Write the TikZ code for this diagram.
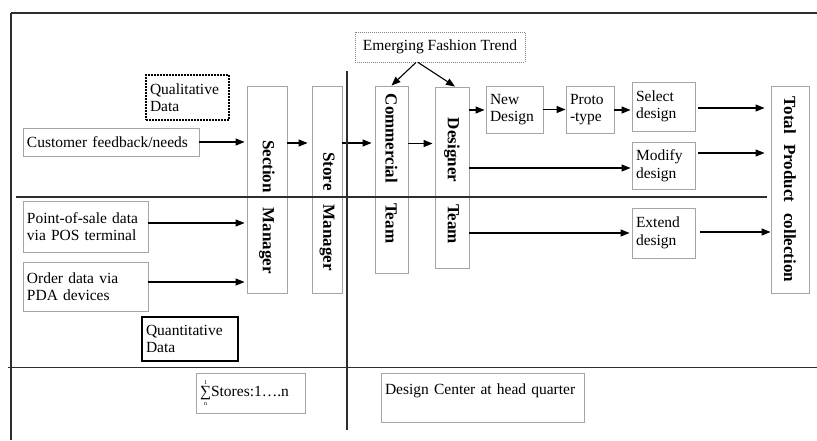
\documentclass[tikz,border=0pt]{standalone}
\usepackage{fontspec}
\setmainfont{Liberation Serif}
\usetikzlibrary{arrows.meta}
\definecolor{boxgray}{RGB}{165,165,165}
\definecolor{inkgray}{RGB}{45,45,45}
\newcommand\regtxt{\fontsize{15.5}{17.5}\selectfont}
\newcommand\boldtxt{\fontsize{17}{19}\selectfont\bfseries}
\newcommand\vlabel[1]{\rotatebox{-90}{#1}}
\begin{document}
\begin{tikzpicture}[x=1pt,y=-1pt,
  box/.style={draw=boxgray, line width=0.9pt, inner xsep=4pt, inner ysep=0pt, align=left, font=\regtxt},
  vbox/.style={draw=boxgray, line width=0.9pt, inner sep=0pt, font=\boldtxt},
  dotbox/.style={draw=boxgray!80!black, line width=0.8pt, dash pattern=on 1pt off 1pt},
  qualbox/.style={draw=black, line width=1.6pt, dash pattern=on 1.6pt off 1.4pt},
  quantbox/.style={draw=black, line width=2pt},
  link/.style={draw=black, line width=1.1pt, -{Triangle[length=9pt,width=7pt]}},
  rule/.style={draw=inkgray, line width=1.1pt}]
\useasboundingbox (0,0) rectangle (817,440);

% store side inputs
\node[box, dotbox, align=center, minimum width=170pt, minimum height=30pt] (emerg) at (440,47) {Emerging Fashion Trend};
\node[box, qualbox, text width=75pt, minimum height=45pt] (qual) at (187.5,97.5) {Qualitative\\Data};
\node[box, text width=168pt, minimum height=28pt] (cust) at (111,142) {Customer feedback/needs};
\node[box, text width=117pt, minimum height=51pt] (pos) at (85.5,226.5) {Point-of-sale data\\via POS terminal};
\node[box, text width=117pt, minimum height=49pt] (order) at (85.5,286.5) {Order data via\\PDA devices};
\node[box, quantbox, text width=88pt, minimum height=44pt] (quant) at (190,339) {Quantitative\\Data};

% vertical role boxes
\node[vbox, minimum width=40pt, minimum height=207pt] (sect) at (267,189.5) {\vlabel{\hspace{35pt}Section\hspace{15pt}Manager}};
\node[vbox, minimum width=30pt, minimum height=207pt] (store) at (327,189.5) {\vlabel{\hspace{44pt}Store\hspace{14pt}Manager}};
\node[vbox, minimum width=33pt, minimum height=187pt] (comm) at (391.5,179.5) {\vlabel{Commercial\hspace{20pt}Team\hspace{22pt}}};
\node[vbox, minimum width=34pt, minimum height=181pt] (desig) at (452,177.5) {\vlabel{\hspace{7pt}Designer\hspace{22pt}Team}};
\node[vbox, minimum width=38pt, minimum height=207pt] (total) at (790,189.5) {\vlabel{Total\hspace{10pt}Product\hspace{11pt}collection}};

% design steps
\node[box, text width=49pt, minimum height=47pt] (newd) at (514.5,109.5) {New\\Design};
\node[box, text width=40pt, minimum height=47pt] (proto) at (590,109.5) {Proto\\-type};
\node[box, text width=55pt, minimum height=49pt] (select) at (663.5,106.5) {Select\\design};
\node[box, text width=55pt, minimum height=47pt] (modify) at (663.5,165.5) {Modify\\design};
\node[box, text width=55pt, minimum height=50pt] (extend) at (663.5,233) {Extend\\design};

% bottom captions
\node[box, text width=101pt, minimum height=40pt] (sum) at (250.5,393) {$\mathop{\mbox{∑}}\limits^{\mbox{\fontsize{6}{6}\selectfont 1}}_{\mbox{\fontsize{6}{6}\selectfont n}}$Stores:1….n};
\node[box, text width=195pt, minimum height=49pt] (dc) at (482.5,397.5) {Design Center at head quarter\\\mbox{}};

% connectors
\draw[link, shorten >=2pt] (cust.east) -- (cust.east -| sect.west);
\draw[link, shorten >=2pt] (pos.east |- 0,223) -- (sect.west |- 0,223);
\draw[link, shorten >=2pt] (order.east |- 0,282) -- (sect.west |- 0,282);
\draw[link, shorten >=4pt] (sect.east |- 0,143) -- (store.west |- 0,143);
\draw[link, shorten >=3pt] (store.east |- 0,143) -- (comm.west |- 0,143);
\draw[link, shorten >=2pt] (comm.east |- 0,143.5) -- (desig.west |- 0,143.5);
\draw[link] ([xshift=-24pt]emerg.south) -- (comm.north);
\draw[link] ([xshift=-22pt]emerg.south) -- ([xshift=3pt]desig.north);
\draw[link, shorten >=1pt] (desig.east |- 0,110) -- (newd.west |- 0,110);
\draw[link] (newd.east) -- (proto.west);
\draw[link, shorten >=1pt] (proto.east |- 0,110) -- (select.west |- 0,110);
\draw[link, shorten <=3pt, shorten >=6pt] (select.east |- 0,108) -- (total.west |- 0,108);
\draw[link, shorten >=1pt] (desig.east |- 0,168) -- (modify.west |- 0,168);
\draw[link, shorten <=3pt, shorten >=6pt] (modify.east |- 0,153) -- (total.west |- 0,153);
\draw[link, shorten >=2pt] (desig.east |- 0,233) -- (extend.west |- 0,233);
\draw[link, shorten <=5pt] (extend.east |- 0,232) -- (total.west |- 0,232);

% frame and dividing rules
\draw[rule] (11,13) -- (817,13);
\draw[rule] (11,13) -- (11,440);
\draw[rule] (16,197) -- (767,197);
\draw[rule] (8,367.5) -- (817,367.5);
\draw[rule] (347,71) -- (347,430);
\end{tikzpicture}
\end{document}
